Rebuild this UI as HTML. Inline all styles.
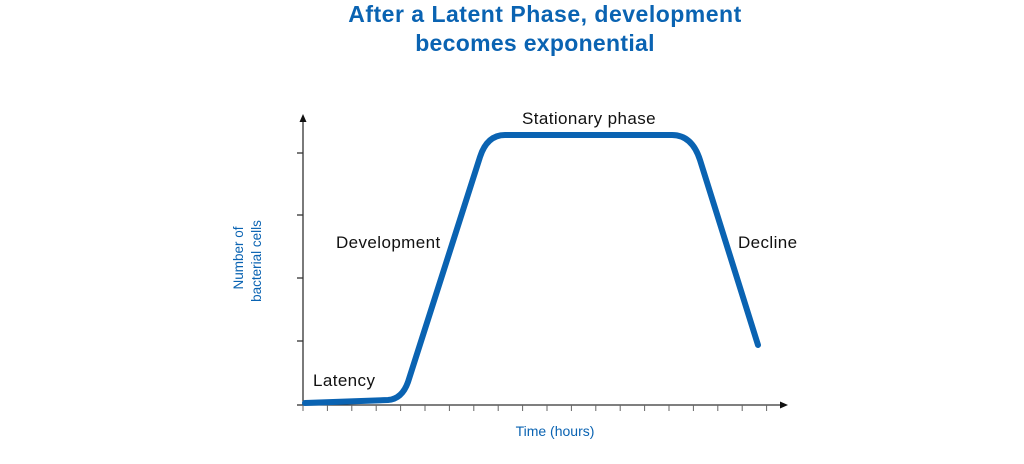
<!DOCTYPE html>
<html><head><meta charset="utf-8"><style>
body{margin:0;width:1024px;height:459px;background:#fff;overflow:hidden;font-family:"Liberation Sans",sans-serif}
</style></head><body>
<svg width="1024" height="459" xmlns="http://www.w3.org/2000/svg">
<text x="545" y="22" text-anchor="middle" font-family="Liberation Sans, sans-serif" font-weight="bold" font-size="23" letter-spacing="0.5" fill="#0a63b2">After a Latent Phase, development</text>
<text x="535" y="51" text-anchor="middle" font-family="Liberation Sans, sans-serif" font-weight="bold" font-size="23" letter-spacing="0.3" fill="#0a63b2">becomes exponential</text>
<g stroke="#333" stroke-width="1.3" fill="none">
<line x1="303" y1="405" x2="303" y2="120"/>
<line x1="303" y1="405" x2="782" y2="405"/>
<line x1="297" y1="153" x2="303" y2="153"/>
<line x1="297" y1="215" x2="303" y2="215"/>
<line x1="297" y1="278" x2="303" y2="278"/>
<line x1="297" y1="341" x2="303" y2="341"/>
<line x1="297" y1="405" x2="303" y2="405"/>
</g>
<g stroke="#666" stroke-width="1">
<path d="M303 405v6M327.4 405v6M351.8 405v6M376.2 405v6M400.6 405v6M425 405v6M449.4 405v6M473.8 405v6M498.2 405v6M522.6 405v6M547 405v6M571.4 405v6M595.8 405v6M620.2 405v6M644.6 405v6M669 405v6M693.4 405v6M717.8 405v6M742.2 405v6M766.6 405v6"/>
</g>
<polygon points="303,114 299.5,122 306.5,122" fill="#111"/>
<polygon points="788,405 780,401.5 780,408.5" fill="#111"/>
<path d="M305 403 L388 400 Q402 399 408 382 L480 157 Q487 135 505 135 L672 135 Q692 135 700 160 L758 345" fill="none" stroke="#0a63b2" stroke-width="6" stroke-linecap="round" stroke-linejoin="round"/>
<g font-family="Liberation Sans, sans-serif" font-size="17" letter-spacing="0.4" fill="#111">
<text x="589" y="124" text-anchor="middle">Stationary phase</text>
<text x="336" y="248">Development</text>
<text x="738" y="248">Decline</text>
<text x="313" y="386">Latency</text>
</g>
<g font-family="Liberation Sans, sans-serif" font-size="14" fill="#0a63b2">
<text x="555" y="436" text-anchor="middle">Time (hours)</text>
<text font-size="13.5" transform="translate(243,258) rotate(-90)" text-anchor="middle">Number of</text>
<text font-size="13.5" transform="translate(261,261) rotate(-90)" text-anchor="middle">bacterial cells</text>
</g>
</svg>
</body></html>
